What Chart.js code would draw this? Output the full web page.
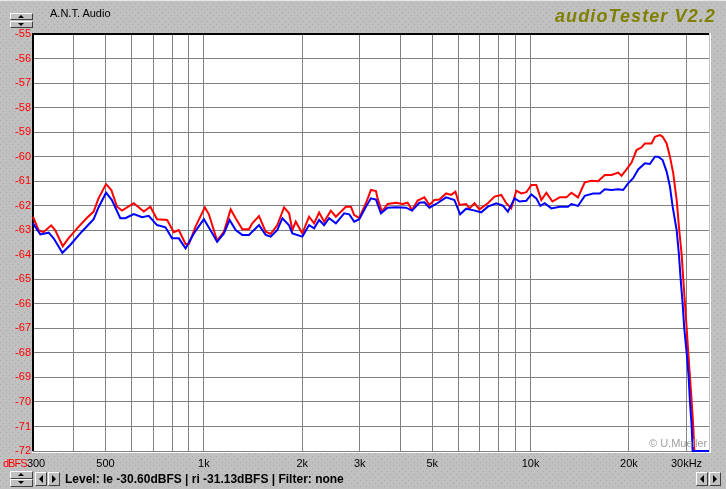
<!DOCTYPE html>
<html>
<head>
<meta charset="utf-8">
<script src="https://cdn.jsdelivr.net/npm/chart.js@4.4.1/dist/chart.umd.min.js"></script>
<style>
  body { margin: 0; background: #c0c0c0; }
  #wrap { position: relative; width: 726px; height: 489px; overflow: hidden; font-family: "Liberation Sans", Arial, sans-serif; }
  #chart { position: absolute; left: 0; top: 0; }
  .txt { position: absolute; white-space: nowrap; line-height: 1; }
  .btn { position: absolute; box-sizing: border-box; background: #c0c0c0;
         border: 1px solid; border-color: #fff #404040 #404040 #fff; }
  .tri { position: absolute; width: 0; height: 0; }
  .up { border-left: 3px solid transparent; border-right: 3px solid transparent; border-bottom: 3px solid #000; }
  .down { border-left: 3px solid transparent; border-right: 3px solid transparent; border-top: 3px solid #000; }
  .left { border-top: 4px solid transparent; border-bottom: 4px solid transparent; border-right: 4px solid #000; }
  .right { border-top: 4px solid transparent; border-bottom: 4px solid transparent; border-left: 4px solid #000; }
</style>
</head>
<body>
<div id="wrap">
  <canvas id="chart" width="726" height="489"></canvas>

  <div class="txt" style="left:50px; top:8px; font-size:11px; color:#000;">A.N.T. Audio</div>
  <div class="txt" style="left:555px; top:7px; font-size:18px; font-weight:bold; font-style:italic; letter-spacing:1.1px; color:#808000;">audioTester V2.2</div>
  <div class="txt" style="left:649px; top:438px; font-size:11px; color:#a0a0a0;">© U.Mueller</div>
  <div class="txt" style="left:3px; top:458px; font-size:11px; letter-spacing:-1px; color:#ff0000;">dBFS</div>
  <div class="txt" style="left:65px; top:473px; font-size:12px; font-weight:bold; color:#000;">Level: le -30.60dBFS | ri -31.13dBFS | Filter: none</div>

  <!-- kleine Schaltflaechen -->
  <div class="btn" style="left:10px; top:13px; width:23px; height:7px;"><div class="tri up" style="left:7px; top:1px;"></div></div>
  <div class="btn" style="left:10px; top:21px; width:23px; height:7px;"><div class="tri down" style="left:7px; top:1px;"></div></div>
  <div class="btn" style="left:10px; top:471px; width:23px; height:8px;"><div class="tri up" style="left:7px; top:1px;"></div></div>
  <div class="btn" style="left:10px; top:479px; width:23px; height:8px;"><div class="tri down" style="left:7px; top:1px;"></div></div>
  <div class="btn" style="left:35px; top:472px; width:12px; height:14px;"><div class="tri left" style="left:3px; top:2px;"></div></div>
  <div class="btn" style="left:48px; top:472px; width:12px; height:14px;"><div class="tri right" style="left:3px; top:2px;"></div></div>
  <div class="btn" style="left:696px; top:472px; width:12px; height:14px;"><div class="tri left" style="left:3px; top:2px;"></div></div>
  <div class="btn" style="left:709px; top:472px; width:12px; height:14px;"><div class="tri right" style="left:3px; top:2px;"></div></div>
</div>

<script>
// ==================== Daten ====================
const xTickValues = [300, 400, 500, 600, 700, 800, 900, 1000, 2000, 3000, 4000, 5000,
  6000, 7000, 8000, 9000, 10000, 20000, 30000];
const xTickLabels = { 300: '  300', 500: '500', 1000: '1k', 2000: '2k', 3000: '3k',
  5000: '5k', 10000: '10k', 20000: '20k', 30000: '30kHz' };

// linker Kanal (rot)
const leftFreq = [300, 312, 323, 341, 351, 370, 385, 414, 439, 460, 476, 502, 521, 542, 562,
  610, 655, 686, 719, 772, 809, 838, 879, 900, 943, 1007, 1036, 1098, 1152, 1208, 1251,
  1311, 1374, 1407, 1475, 1546, 1602, 1678, 1760, 1823, 1866, 1911, 2002, 2099, 2175,
  2253, 2334, 2447, 2535, 2721, 2819, 2885, 2989, 3133, 3246, 3363, 3401, 3508, 3650,
  3873, 4058, 4203, 4336, 4511, 4730, 4900, 5076, 5259, 5514, 5712, 5888, 6057, 6350,
  6500, 6733, 6976, 7397, 7755, 8131, 8423, 8726, 9040, 9365, 9701, 10049, 10411, 10785,
  11173, 11657, 12273, 12868, 13330, 13967, 14644, 15353, 16086, 16865, 17682, 18526,
  18976, 19658, 20364, 21096, 21856, 22372, 23456, 24009, 24872, 25352, 26080, 26692,
  27324, 27988, 28503, 28992, 29321, 29675, 30033, 30374, 30741, 31112, 31466, 31690, 35150];
const leftLevel = [-62.45, -63.0, -63.08, -62.8, -63.0, -63.65, -63.33, -62.85, -62.49, -62.24,
  -61.7, -61.12, -61.36, -62.04, -62.2, -61.9, -62.24, -62.04, -62.55, -62.58, -63.08,
  -62.99, -63.56, -63.56, -62.85, -62.07, -62.35, -63.43, -63.06, -62.15, -62.51, -62.96,
  -62.96, -62.72, -62.42, -63.06, -63.15, -62.79, -62.07, -62.31, -62.99, -62.65, -63.13,
  -62.45, -62.72, -62.28, -62.65, -62.2, -62.45, -62.04, -62.04, -62.38, -62.5, -61.9,
  -61.36, -61.4, -61.7, -62.24, -61.93, -61.88, -61.93, -61.88, -62.18, -61.79, -61.66,
  -61.97, -61.77, -61.75, -61.5, -61.56, -61.43, -61.97, -61.93, -62.11, -61.9, -62.15,
  -61.9, -61.63, -61.56, -61.9, -62.11, -61.39, -61.5, -61.45, -61.16, -61.16, -61.77,
  -61.47, -61.83, -61.66, -61.66, -61.47, -61.66, -61.05, -60.98, -61.0, -60.75, -60.75,
  -60.65, -60.78, -60.52, -60.24, -59.73, -59.62, -59.46, -59.46, -59.19, -59.12, -59.19,
  -59.46, -60.0, -60.68, -61.77, -63, -64, -65, -66, -67, -68, -69, -70, -71, -72, -72];

// rechter Kanal (blau)
const rightFreq = [300, 316, 335, 347, 369, 390, 423, 460, 476, 502, 523, 555, 575, 610, 647,
  678, 719, 763, 799, 838, 879, 932, 1000, 1048, 1098, 1152, 1199, 1251, 1311, 1374, 1475,
  1546, 1602, 1678, 1739, 1823, 1866, 2002, 2099, 2175, 2253, 2334, 2418, 2535, 2688,
  2785, 2885, 2989, 3133, 3246, 3363, 3483, 3650, 3873, 4156, 4336, 4566, 4730, 4900,
  5138, 5514, 5846, 6087, 6350, 6653, 7061, 7397, 7849, 8224, 8519, 8932, 9253, 9701,
  10049, 10411, 10709, 11040, 11575, 12273, 13014, 13330, 13967, 14644, 15529, 16280,
  16865, 17682, 18526, 19193, 19883, 20597, 21339, 22372, 23176, 24009, 24575, 25352,
  26080, 26692, 27207, 27988, 28443, 28786, 29195, 29527, 30033, 30459, 30741, 31112,
  31326, 35150];
const rightLevel = [-62.72, -63.17, -63.1, -63.33, -63.92, -63.6, -63.06, -62.55, -62.07, -61.47,
  -61.77, -62.51, -62.51, -62.34, -62.47, -62.41, -62.79, -62.88, -63.33, -63.33, -63.74,
  -63.13, -62.55, -63.0, -63.47, -63.13, -62.58, -62.99, -63.19, -63.19, -62.79, -63.19,
  -63.26, -62.99, -62.51, -62.8, -63.13, -63.26, -62.79, -62.92, -62.58, -62.79, -62.51,
  -62.72, -62.31, -62.35, -62.65, -62.55, -62.04, -61.7, -61.75, -62.31, -62.08, -62.06,
  -62.08, -62.2, -61.88, -61.86, -62.08, -61.93, -61.66, -61.77, -62.35, -62.12, -62.18,
  -62.27, -62.04, -61.9, -62.0, -62.24, -61.7, -61.83, -61.8, -61.54, -61.7, -62.01,
  -61.9, -62.11, -62.04, -62.04, -61.93, -62.01, -61.6, -61.5, -61.5, -61.33, -61.36,
  -61.33, -61.36, -61.09, -60.88, -60.52, -60.27, -60.3, -60.0, -60.0, -60.14, -60.61,
  -61.22, -62.04, -63, -64, -65, -66, -67, -68, -69, -70, -71, -72, -72];

function toPoints(freqs, levels) {
  return freqs.map((f, i) => ({ x: f, y: levels[i] }));
}

// Hintergrund mit Punktraster
const patCanvas = document.createElement('canvas');
patCanvas.width = 6;
patCanvas.height = 6;
const pctx = patCanvas.getContext('2d');
pctx.fillStyle = '#c0c0c0';
pctx.fillRect(0, 0, 6, 6);
pctx.fillStyle = '#a9a9a2';
pctx.fillRect(0, 0, 1, 1);
pctx.fillRect(3, 3, 1, 1);

const panelPlugin = {
  id: 'panel',
  beforeDraw(chart) {
    const { ctx, chartArea: a } = chart;
    ctx.save();
    ctx.fillStyle = ctx.createPattern(patCanvas, 'repeat');
    ctx.fillRect(0, 0, chart.width, chart.height);
    ctx.fillStyle = '#e8e8e8';
    ctx.fillRect(0, 0, chart.width, 1);
    ctx.fillStyle = '#fff';
    ctx.fillRect(a.left, a.top, a.right - a.left, a.bottom - a.top);
    ctx.restore();
  },
  beforeDatasetsDraw(chart) {
    const { ctx, chartArea: a } = chart;
    ctx.save();
    // eingelassener Rahmen
    ctx.fillStyle = '#000';
    ctx.fillRect(a.left - 1, a.top - 1, a.right - a.left + 1, 2);
    ctx.fillRect(a.left - 1, a.top - 1, 2, a.bottom - a.top + 1);
    ctx.fillStyle = '#fff';
    ctx.fillRect(a.left - 1, a.bottom + 1, a.right - a.left + 2, 1);
    ctx.fillRect(a.right + 1, a.top - 1, 1, a.bottom - a.top + 3);
    ctx.restore();
  }
};

new Chart(document.getElementById('chart'), {
  type: 'line',
  data: {
    datasets: [
      {
        label: 'le',
        data: toPoints(leftFreq, leftLevel),
        borderColor: '#ff0000',
        borderWidth: 2,
        pointRadius: 0,
        tension: 0,
        clip: false,
        order: 1
      },
      {
        label: 'ri',
        data: toPoints(rightFreq, rightLevel),
        borderColor: '#0000ff',
        borderWidth: 2,
        pointRadius: 0,
        tension: 0,
        clip: false,
        order: 0
      }
    ]
  },
  options: {
    responsive: false,
    animation: false,
    devicePixelRatio: 1,
    layout: { padding: { top: 34, right: 17, left: 0, bottom: 0 } },
    plugins: {
      legend: { display: false },
      tooltip: { enabled: false }
    },
    scales: {
      x: {
        type: 'logarithmic',
        min: 300,
        max: 35150,
        afterBuildTicks: scale => { scale.ticks = xTickValues.map(v => ({ value: v })); },
        afterFit: scale => { scale.height = 38; },
        grid: { color: '#808080', lineWidth: 1, drawTicks: false },
        border: { display: false },
        ticks: {
          autoSkip: false,
          maxRotation: 0,
          minRotation: 0,
          padding: 6,
          color: '#000',
          font: { family: '"Liberation Sans", Arial, sans-serif', size: 11 },
          callback: value => xTickLabels[value] || ''
        }
      },
      y: {
        type: 'linear',
        min: -72,
        max: -55,
        afterFit: scale => { scale.width = 33; },
        grid: { color: '#808080', lineWidth: 1, drawTicks: false },
        border: { display: false },
        ticks: {
          stepSize: 1,
          autoSkip: false,
          padding: 2,
          color: '#ff0000',
          font: { family: '"Liberation Sans", Arial, sans-serif', size: 11 }
        }
      }
    }
  },
  plugins: [panelPlugin]
});
</script>
</body>
</html>
